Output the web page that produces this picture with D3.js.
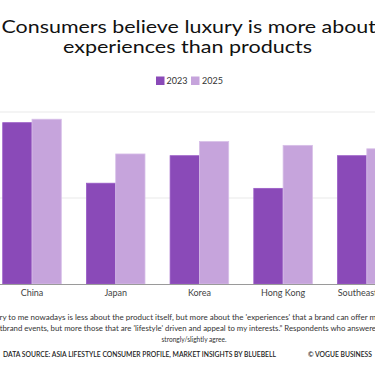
<!DOCTYPE html>
<html><head><meta charset="utf-8">
<script src="https://cdn.jsdelivr.net/npm/d3@7"></script>
<style>
html,body{margin:0;padding:0;background:#fff;overflow:hidden;}
svg{display:block;}
</style></head>
<body>
<svg id="chart" width="375" height="366"></svg>
<script>
const categories = ["China", "Japan", "Korea", "Hong Kong", "Southeast Asia"];
const seriesNames = ["2023", "2025"];
const values2023 = [46.9, 29.3, 37.3, 27.8, 37.3];
const values2025 = [47.9, 37.8, 41.4, 40.3, 39.3];
const yTicks = [0, 25, 50];
const colors = ["#8a4ab8", "#c6a4dc"];

const svg = d3.select("#chart");
const W = 375, H = 366;
const font = "Lato, 'Noto Sans', sans-serif";

// Title
const titleLines = ["Consumers believe luxury is more about", "experiences than products"];
const titleSpec = [{y: 33, x0: 1.5, x1: 376}, {y: 52.5, x0: 63, x1: 312}];
titleLines.forEach((t, i) => {
  svg.append("text").attr("x", titleSpec[i].x0).attr("y", titleSpec[i].y)
    .attr("font-family", font).attr("font-size", 17).attr("font-weight", 400).attr("fill", "#111")
    .attr("textLength", titleSpec[i].x1 - titleSpec[i].x0).attr("lengthAdjust", "spacingAndGlyphs")
    .text(t);
});

// Scales
const x = d3.scaleBand().domain(categories).range([-9.85, 408.65]).paddingInner(0.3).paddingOuter(0.15);
const x1 = d3.scaleBand().domain(seriesNames).range([0, x.bandwidth()]);
const y = d3.scaleLinear().domain([0, 50]).range([284, 112]);

// gridlines
svg.append("g").selectAll("line").data(yTicks.filter(d => d > 0)).join("line")
  .attr("x1", 0).attr("x2", W).attr("y1", d => y(d)).attr("y2", d => y(d))
  .attr("stroke", "#e9e9e9").attr("stroke-width", 1);

// bars
const data = categories.map((c, i) => ({c, vals: [values2023[i], values2025[i]]}));
const g = svg.append("g");
data.forEach(d => {
  d.vals.forEach((v, j) => {
    g.append("rect")
      .attr("x", x(d.c) + x1(seriesNames[j]))
      .attr("y", y(v))
      .attr("width", x1.bandwidth())
      .attr("height", y(0) - y(v))
      .attr("fill", colors[j])
      .attr("stroke", j === 0 ? "#9a5cc6" : "#d7bfe8").attr("stroke-width", 0.8);
  });
});

// x axis
const xAxis = svg.append("g").attr("transform", `translate(0,${y(0)})`)
  .call(d3.axisBottom(x).tickSize(0).tickPadding(6));
xAxis.select(".domain").attr("stroke", "#9a9a9a").attr("d", `M0,0.5H${W}`);
xAxis.selectAll("text").attr("font-family", font).attr("font-size", 9).attr("fill", "#444");

// legend
const legend = svg.append("g");
const legSpec = [{sx: 156, tx: 166.5}, {sx: 191, tx: 202}];
seriesNames.forEach((s, i) => {
  legend.append("rect").attr("x", legSpec[i].sx).attr("y", 76.5).attr("width", 8.5).attr("height", 8.5).attr("fill", colors[i]);
  legend.append("text").attr("x", legSpec[i].tx).attr("y", 84.3).attr("font-family", font).attr("font-size", 9).attr("fill", "#333").text(s);
});

// footnote
const noteFont = 7.8;
function partial(prefix, visible, suffix, x0, x1, yy) {
  svg.append("text").attr("x", x0).attr("y", yy).attr("font-family", font).attr("font-size", noteFont).attr("fill", "#333")
    .attr("textLength", x1 - x0).attr("lengthAdjust", "spacingAndGlyphs").text(visible);
  if (prefix) svg.append("text").attr("x", x0).attr("y", yy).attr("text-anchor", "end").attr("font-family", font).attr("font-size", noteFont).attr("fill", "#333").text(prefix);
  if (suffix) svg.append("text").attr("x", x1).attr("y", yy).attr("font-family", font).attr("font-size", noteFont).attr("fill", "#333").text(suffix);
}
partial("\u201cLuxu", "ry to me nowadays is less about the product itself, but more about the 'experiences' that a brand can offer m", "e.", -0.5, 376, 319.5);
partial("Not just ", "brand events, but more those that are 'lifestyle' driven and appeal to my interests.\u201d Respondents who answere", "d", 2.5, 376, 330.5);
svg.append("text").attr("x", 194).attr("y", 341.5).attr("text-anchor", "middle").attr("font-family", font).attr("font-size", noteFont).attr("fill", "#333")
  .attr("textLength", 65).attr("lengthAdjust", "spacingAndGlyphs").text("strongly/slightly agree.");

// source
svg.append("text").attr("x", 3).attr("y", 357).attr("font-family", font).attr("font-size", 7.6).attr("font-weight", 600).attr("fill", "#222")
  .attr("textLength", 273).attr("lengthAdjust", "spacingAndGlyphs")
  .text("DATA SOURCE: ASIA LIFESTYLE CONSUMER PROFILE, MARKET INSIGHTS BY BLUEBELL");
svg.append("text").attr("x", 308).attr("y", 357).attr("font-family", font).attr("font-size", 7.6).attr("font-weight", 600).attr("fill", "#222")
  .attr("textLength", 64).attr("lengthAdjust", "spacingAndGlyphs")
  .text("\u00a9 VOGUE BUSINESS");
</script>
</body></html>
